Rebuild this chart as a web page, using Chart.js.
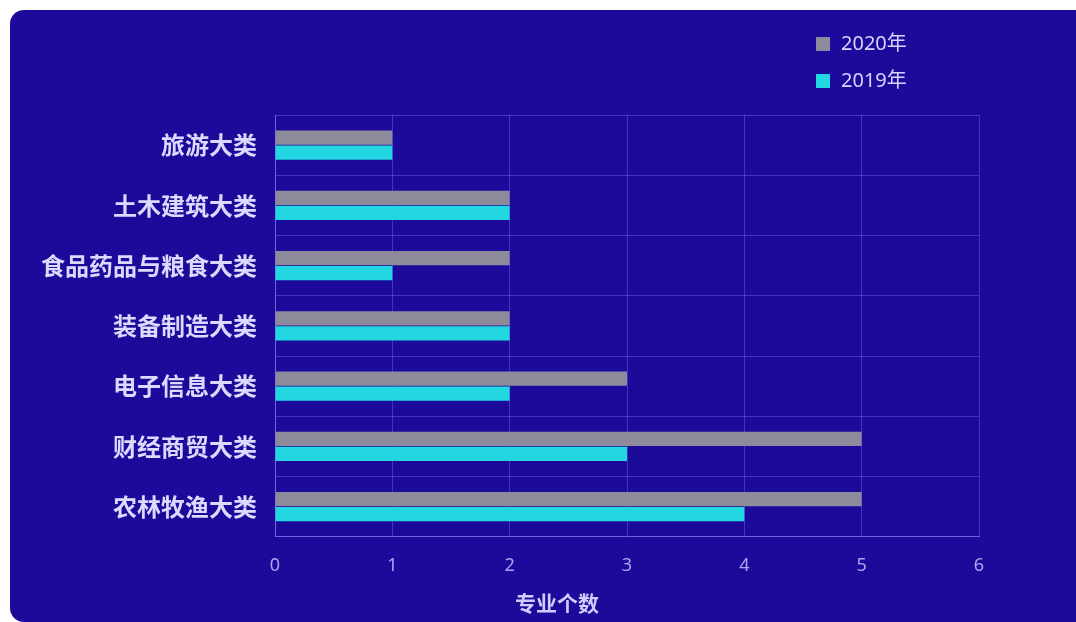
<!DOCTYPE html>
<html>
<head>
<meta charset="utf-8">
<script src="https://cdn.jsdelivr.net/npm/chart.js@4/dist/chart.umd.min.js"></script>
<style>
  html, body { margin: 0; padding: 0; background: #ffffff; }
  #panel {
    position: absolute; left: 10px; top: 10px;
    width: 1066px; height: 612px;
    background: #1c0b9b;
    border-radius: 14px 0 0 14px;
    overflow: hidden;
  }
</style>
</head>
<body>
<div id="panel"><canvas id="chart" width="1066" height="612"></canvas></div>
<script>
// categories, top to bottom
var categories = ['旅游大类', '土木建筑大类', '食品药品与粮食大类', '装备制造大类', '电子信息大类', '财经商贸大类', '农林牧渔大类'];
var seriesNames = ['2020年', '2019年'];
var values2020 = [1, 2, 2, 2, 3, 5, 5];
var values2019 = [1, 2, 1, 2, 2, 3, 4];
var xTicks = [0, 1, 2, 3, 4, 5, 6];

var gridColor = 'rgba(140, 130, 255, 0.35)';

// legend drawn as a vertical list above the plot, like the original
var sideLegend = {
    id: 'sideLegend',
    afterDraw: function(chart) {
        var ctx = chart.ctx;
        ctx.save();
        ctx.font = '20px "Noto Sans", "Noto Sans CJK SC", sans-serif';
        ctx.textBaseline = 'middle';
        ctx.textAlign = 'left';
        chart.data.datasets.forEach(function(ds, i) {
            var y = 34 + i * 37;
            ctx.fillStyle = ds.backgroundColor;
            ctx.fillRect(806, y - 7, 14, 14);
            ctx.fillStyle = '#d6d3ff';
            ctx.fillText(ds.label, 831, y);
        });
        ctx.restore();
    }
};

var ctx = document.getElementById('chart').getContext('2d');
new Chart(ctx, {
    type: 'bar',
    data: {
        labels: categories,
        datasets: [{
            label: seriesNames[0],
            data: values2020,
            backgroundColor: '#8d8a9c',
            categoryPercentage: 0.5,
            barPercentage: 0.95
        }, {
            label: seriesNames[1],
            data: values2019,
            backgroundColor: '#22d6e2',
            categoryPercentage: 0.5,
            barPercentage: 0.95
        }]
    },
    options: {
        indexAxis: 'y',
        responsive: false,
        animation: false,
        layout: { padding: { left: 28, top: 105, right: 0, bottom: 0 } },
        plugins: {
            legend: { display: false },
            tooltip: { enabled: false },
            title: {
                display: true,
                position: 'bottom',
                text: '专业个数',
                color: '#d0ccff',
                font: { family: '"Noto Sans CJK SC", sans-serif', size: 21, weight: 'bold' },
                padding: { top: 0, bottom: 6 }
            }
        },
        scales: {
            x: {
                min: 0,
                max: 6,
                afterBuildTicks: function(scale) {
                    scale.ticks = xTicks.map(function(v) { return { value: v }; });
                },
                afterFit: function(scale) { scale.height = 54; },
                grid: { color: gridColor, drawTicks: false },
                border: { color: 'rgba(150, 140, 255, 0.55)' },
                ticks: {
                    color: '#aaa6f2',
                    padding: 18,
                    font: { family: '"Noto Sans", sans-serif', size: 18 }
                }
            },
            y: {
                afterFit: function(scale) { scale.width = 237; },
                grid: { color: gridColor, drawTicks: false },
                border: { color: 'rgba(150, 140, 255, 0.55)' },
                ticks: {
                    color: '#dcd9ff',
                    padding: 18,
                    font: { family: '"Noto Sans CJK SC", sans-serif', size: 24, weight: 'bold' }
                }
            },
            y2: {
                type: 'linear',
                position: 'right',
                afterFit: function(scale) { scale.width = 97; },
                grid: { display: false },
                border: { display: false },
                ticks: { display: false }
            }
        }
    },
    plugins: [sideLegend]
});
</script>
</body>
</html>
